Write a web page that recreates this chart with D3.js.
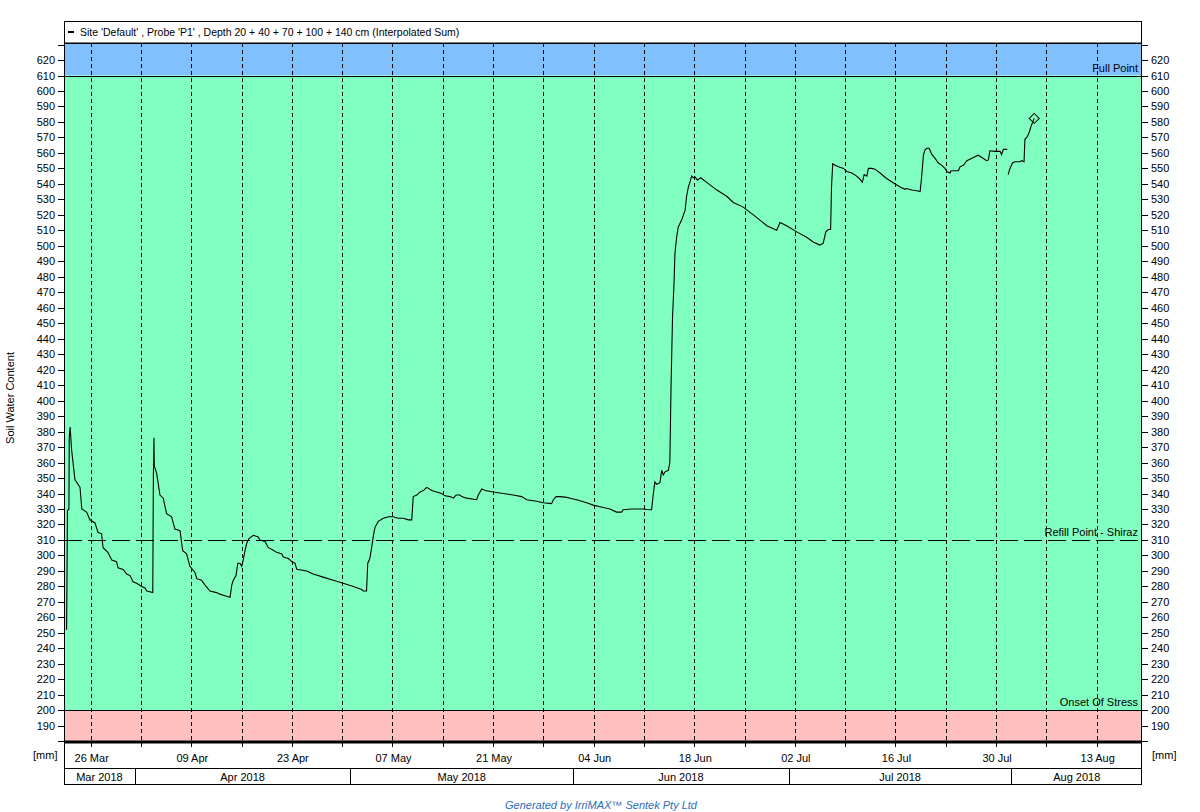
<!DOCTYPE html>
<html><head><meta charset="utf-8">
<script src="https://cdn.jsdelivr.net/npm/d3@7"></script>
<style>
body{margin:0;background:#fff;}
text{font-family:"Liberation Sans",Arial,sans-serif;font-size:11px;fill:#000;}
</style>
</head><body>
<svg id="c" width="1200" height="812"></svg>
<script>
// ---------- DATA ----------
const legendText = "Site 'Default' , Probe 'P1' , Depth 20 + 40 + 70 + 100 + 140 cm (Interpolated Sum)";
const yLabel = "Soil Water Content";
const unitLabel = "[mm]";
const footerText = "Generated by IrriMAX\u2122 Sentek Pty Ltd";
const xDomain = ["2018-03-22 03:30", "2018-08-19 04:00"];
const yDomain = [179.5, 631];
const yTickValues = d3.range(180, 631, 10);
const labeledTickDates = ["2018-03-26","2018-04-09","2018-04-23","2018-05-07","2018-05-21","2018-06-04","2018-06-18","2018-07-02","2018-07-16","2018-07-30","2018-08-13"];
const tickLabels = ["26 Mar","09 Apr","23 Apr","07 May","21 May","04 Jun","18 Jun","02 Jul","16 Jul","30 Jul","13 Aug"];
const monthStarts = ["2018-03-01","2018-04-01","2018-05-01","2018-06-01","2018-07-01","2018-08-01","2018-09-01"];
const monthLabels = ["Mar 2018","Apr 2018","May 2018","Jun 2018","Jul 2018","Aug 2018"];
const fullPoint = 610, refillPoint = 310, stressPoint = 200;
const zoneLabels = ["Full Point", "Refill Point - Shiraz", "Onset Of Stress"];

const seg1Times = ["03-22 12","03-22 13","03-22 15","03-22 20","03-22 21","03-23 00","03-23 05","03-23 16","03-24 09","03-24 15","03-25 07","03-25 18","03-26 11","03-26 21","03-27 09","03-27 14","03-28 06","03-28 19","03-29 11","03-29 16","03-30 09","03-30 21","03-31 08","03-31 18","04-01 06","04-01 23","04-02 10","04-02 16","04-03 12","04-03 13","04-03 14","04-03 16","04-03 17","04-04 01","04-04 12","04-04 23","04-05 10","04-06 03","04-06 14","04-07 07","04-07 16","04-08 05","04-08 16","04-09 09","04-09 15","04-10 07","04-10 18","04-11 11","04-12 09","04-12 20","04-13 13","04-14 06","04-14 12","04-14 17","04-15 02","04-15 08","04-15 15","04-15 21","04-16 02","04-16 08","04-16 14","04-16 22","04-17 12","04-18 04","04-18 10","04-19 03","04-19 14","04-20 01","04-20 18","04-21 11","04-21 16","04-22 09","04-22 20","04-23 07","04-23 13","04-24 22","04-25 20","04-27 05","04-28 15","04-30 00","05-01 10","05-02 14","05-02 19","05-03 06","05-03 10","05-03 17","05-03 23","05-04 05","05-04 10","05-04 21","05-05 14","05-06 07","05-06 23","05-07 16","05-08 09","05-09 02","05-09 13","05-09 18","05-10 06","05-10 17","05-11 04","05-11 15","05-12 08","05-13 00","05-13 17","05-14 04","05-14 21","05-15 08","05-15 17","05-16 06","05-16 12","05-17 04","05-18 14","05-18 19","05-19 07","05-19 18","05-20 21","05-22 07","05-23 16","05-24 20","05-25 13","05-26 22","05-27 20","05-29 00","05-29 06","05-29 15","05-30 04","05-31 03","05-31 14","06-01 12","06-02 21","06-03 19","06-05 05","06-06 03","06-07 01","06-07 18","06-07 23","06-09 03","06-10 18","06-11 05","06-11 22","06-12 04","06-12 09","06-12 15","06-13 02","06-13 08","06-13 13","06-13 19","06-14 06","06-14 11","06-14 15","06-14 20","06-15 01","06-15 04","06-15 10","06-15 15","06-16 03","06-16 14","06-16 19","06-17 01","06-17 06","06-17 12","06-17 17","06-17 23","06-18 07","06-18 18","06-19 14","06-21 00","06-22 09","06-23 07","06-24 16","06-26 02","06-27 23","06-29 08","06-29 19","06-30 17","07-02 03","07-03 12","07-04 10","07-05 08","07-05 19","07-06 04","07-06 12","07-06 20","07-06 23","07-07 03","07-07 11","07-07 22","07-08 15","07-09 02","07-09 19","07-10 11","07-10 22","07-11 06","07-11 12","07-11 21","07-12 02","07-12 13","07-13 00","07-13 17","07-14 15","07-15 13","07-16 12","07-17 05","07-17 10","07-18 03","07-18 20","07-19 07","07-19 12","07-19 18","07-19 23","07-20 05","07-20 13","07-20 22","07-21 09","07-21 20","07-22 07","07-22 18","07-23 00","07-23 11","07-23 14","07-24 15","07-24 20","07-25 07","07-25 19","07-26 17","07-27 09","07-27 21","07-28 13","07-28 19","07-29 00","07-29 17","07-30 10","07-30 15","07-30 21","07-31 10"];
const seg1Values = [252,271,329,330,376,383,368,349,344,330,328,323,321,315,314,305,302,297,296,292,291,288,287,283,282,280,279,277,276,315,350,376,358,353,339,337,327,325,317,316,303,301,293,289,285,284,281,277,276,275,274,273,281,284,287,295,295,293,297,303,308,311,313,312,310,309,305,304,302,301,299,298,296,295,291,290,288,286,284,282,280,278,277,277,295,298,305,313,318,322,324,325,325,324,324,323,323,338,339,341,342,344,342,341,340,338.5,338,337,339,339,338,337,336,339,343,342,341,340,339,338,336,335,334,333.5,336,338,338,337.5,337,336,334,332.5,331,330,328,328,329.5,330,330,329.7,329.5,340,347.5,346,347,355,352,354,355,360,409,454,476,495,506,512,517,523,532,538,541,545,544,544.5,542.5,544,541,536,532,528,525,520,513,510,515,513,509,505.5,502.5,500.5,501.5,509,510.5,510.5,538,553,552,551,550,548,547,545,543,541,546,545,550,550,549.5,547,543.5,540.7,538,536.5,537,536,535.6,535,544.6,558.6,561.8,563,563,559,556.5,553.5,552,550,548,547,548.5,548.5,551,552,555,557,558.5,557,555,555.5,561.4,561,561,559,562.3,562.3];
const seg2Times = ["07-31 13","07-31 19","08-01 04","08-01 12","08-02 05","08-02 10","08-02 18","08-02 21","08-03 05","08-03 12","08-03 17","08-03 23","08-04 04"];
const seg2Values = [546,550,553.7,554.3,554.3,555,554.3,568.8,570.5,573.7,577,580,582.3];

// ---------- CHART ----------
const svg = d3.select("#c");
const L = 64, R = 1142, T = 43, B = 742;
const parseDT = d3.timeParse("%Y-%m-%d %H:%M");
const parseD = d3.timeParse("%Y-%m-%d");
const parseS = s => d3.timeParse("%Y-%m-%d %H")("2018-" + s);

const x = d3.scaleTime().domain(xDomain.map(parseDT)).range([L, R]);
const y = d3.scaleLinear().domain(yDomain).range([B, T]);

// Zone bands
svg.append("rect").attr("x", L).attr("y", T).attr("width", R - L).attr("height", y(fullPoint) - T).attr("fill", "#80c0ff");
svg.append("rect").attr("x", L).attr("y", y(fullPoint)).attr("width", R - L).attr("height", y(stressPoint) - y(fullPoint)).attr("fill", "#80ffc0");
svg.append("rect").attr("x", L).attr("y", y(stressPoint)).attr("width", R - L).attr("height", B - y(stressPoint)).attr("fill", "#ffc0c0");

// Weekly dashed grid
const weeks = x.ticks(d3.timeMonday.every(1));
svg.append("g").selectAll("line").data(weeks).join("line")
  .attr("x1", d => Math.round(x(d)) - 0.5).attr("x2", d => Math.round(x(d)) - 0.5)
  .attr("y1", T).attr("y2", B)
  .attr("stroke", "#000").attr("stroke-width", 1).attr("stroke-dasharray", "4,3");
svg.append("g").selectAll("line").data(weeks).join("line")
  .attr("x1", d => Math.round(x(d)) - 0.5).attr("x2", d => Math.round(x(d)) - 0.5)
  .attr("y1", B).attr("y2", B + 5)
  .attr("stroke", "#000").attr("stroke-width", 1);

// Zone boundary lines
[fullPoint, stressPoint].forEach(v => {
  svg.append("line").attr("x1", L).attr("x2", R).attr("y1", Math.round(y(v)) + 0.5).attr("y2", Math.round(y(v)) + 0.5)
    .attr("stroke", "#000").attr("stroke-width", 1);
});
svg.append("line").attr("x1", L).attr("x2", R).attr("y1", Math.round(y(refillPoint)) + 0.5).attr("y2", Math.round(y(refillPoint)) + 0.5)
  .attr("stroke", "#000").attr("stroke-width", 1).attr("stroke-dasharray", "18,6");

// Zone labels
svg.append("text").attr("x", R - 4).attr("y", y(fullPoint) - 4).attr("text-anchor", "end").text(zoneLabels[0]);
svg.append("text").attr("x", R - 4).attr("y", y(refillPoint) - 4).attr("text-anchor", "end").text(zoneLabels[1]);
svg.append("text").attr("x", R - 4).attr("y", y(stressPoint) - 4).attr("text-anchor", "end").text(zoneLabels[2]);

// Data line
const line = d3.line().x(d => x(d[0])).y(d => y(d[1]));
const seg1 = seg1Times.map((t, i) => [parseS(t), seg1Values[i]]);
const seg2 = seg2Times.map((t, i) => [parseS(t), seg2Values[i]]);
[seg1, seg2].forEach(seg => {
  svg.append("path").datum(seg).attr("d", line).attr("fill", "none").attr("stroke", "#000").attr("stroke-width", 1.1);
});
const last = seg2[seg2.length - 1];
svg.append("path").attr("d", d3.symbol(d3.symbolSquare, 50)())
  .attr("transform", `translate(${x(last[0])},${y(last[1])}) rotate(45)`)
  .attr("fill", "none").attr("stroke", "#000").attr("stroke-width", 1);

// Plot frame
svg.append("line").attr("x1", L).attr("x2", R).attr("y1", T + 0.5).attr("y2", T + 0.5).attr("stroke", "#000");
svg.append("line").attr("x1", L + 0.5).attr("x2", L + 0.5).attr("y1", 21).attr("y2", 785).attr("stroke", "#000");
svg.append("line").attr("x1", R - 0.5).attr("x2", R - 0.5).attr("y1", 21).attr("y2", 785).attr("stroke", "#000");
svg.append("line").attr("x1", L).attr("x2", R).attr("y1", B).attr("y2", B).attr("stroke", "#000").attr("stroke-width", 3);

// Legend box
svg.append("rect").attr("x", L + 0.5).attr("y", 21.5).attr("width", R - L - 1).attr("height", T - 21.5).attr("fill", "#fff").attr("stroke", "#000");
svg.append("line").attr("x1", 68).attr("x2", 74).attr("y1", 32).attr("y2", 32).attr("stroke", "#000").attr("stroke-width", 2);
svg.append("text").attr("x", 80).attr("y", 36).style("font-size", "10.5px").text(legendText);

// Y axes
const yTickG = svg.append("g");
yTickValues.forEach(v => {
  const yy = Math.round(y(v)) + 0.5;
  yTickG.append("line").attr("x1", L - 6).attr("x2", L).attr("y1", yy).attr("y2", yy).attr("stroke", "#000");
  yTickG.append("line").attr("x1", R).attr("x2", R + 6).attr("y1", yy).attr("y2", yy).attr("stroke", "#000");
  if (v > yTickValues[0] && v < yTickValues[yTickValues.length - 1]) {
    yTickG.append("text").attr("x", L - 9).attr("y", yy).attr("dy", "0.35em").attr("text-anchor", "end").text(v);
    yTickG.append("text").attr("x", R + 9).attr("y", yy).attr("dy", "0.35em").attr("text-anchor", "start").text(v);
  }
});
svg.append("text").attr("transform", "translate(14,398) rotate(-90)").attr("text-anchor", "middle").text(yLabel);
svg.append("text").attr("x", 33).attr("y", 759).text(unitLabel);
svg.append("text").attr("x", 1152).attr("y", 759).text(unitLabel);

// Date labels
labeledTickDates.forEach((d, i) => {
  svg.append("text").attr("x", x(parseD(d))).attr("y", 762).attr("text-anchor", "middle").text(tickLabels[i]);
});

// Month row
svg.append("line").attr("x1", L).attr("x2", R).attr("y1", 768.5).attr("y2", 768.5).attr("stroke", "#000");
svg.append("line").attr("x1", L).attr("x2", R).attr("y1", 784.5).attr("y2", 784.5).attr("stroke", "#000");
const [d0, d1] = x.domain();
monthLabels.forEach((m, i) => {
  const a = Math.max(+parseD(monthStarts[i]), +d0), b = Math.min(+parseD(monthStarts[i + 1]), +d1);
  const xa = x(new Date(a)), xb = x(new Date(b));
  if (i > 0) svg.append("line").attr("x1", Math.round(xa) + 0.5).attr("x2", Math.round(xa) + 0.5).attr("y1", 768.5).attr("y2", 785).attr("stroke", "#000");
  svg.append("text").attr("x", (xa + xb) / 2).attr("y", 781).attr("text-anchor", "middle").text(m);
});

// Footer
svg.append("text").attr("x", 601).attr("y", 809).attr("text-anchor", "middle")
  .style("font-style", "italic").style("fill", "#2a6ebb").text(footerText);
</script>
</body></html>
